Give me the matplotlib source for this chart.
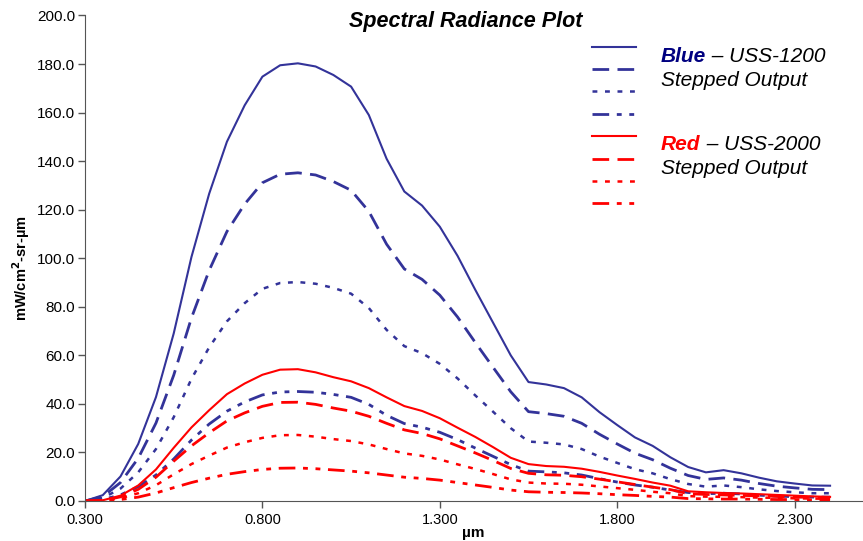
import numpy as np
import matplotlib.pyplot as plt
from matplotlib.lines import Line2D

plt.rcParams['font.family'] = ['Liberation Sans', 'DejaVu Sans']
plt.rcParams['lines.scale_dashes'] = False

# wavelength grid (um)
wl = [0.30, 0.35, 0.40, 0.45, 0.50, 0.55, 0.60, 0.65, 0.70, 0.75, 0.80,
      0.85, 0.90, 0.95, 1.00, 1.05, 1.10, 1.15, 1.20, 1.25, 1.30, 1.35,
      1.40, 1.45, 1.50, 1.55, 1.60, 1.65, 1.70, 1.75, 1.80, 1.85, 1.90,
      1.95, 2.00, 2.05, 2.10, 2.15, 2.20, 2.25, 2.30, 2.35, 2.40]

# USS-1200 (blue), full output and stepped outputs
blue_100 = [0, 2.4, 10.1, 23.5, 42.8, 69.0, 100.5, 126.6, 148.0, 163.0, 174.8,
            179.5, 180.3, 179.0, 175.5, 170.7, 159.0, 141.0, 127.5, 121.7, 113.0, 101.0,
            87.0, 73.5, 60.0, 49.0, 48.0, 46.5, 42.7, 36.6, 31.3, 26.2, 22.7,
            18.0, 14.0, 11.8, 12.7, 11.4, 9.6, 8.1, 7.2, 6.4, 6.3]
blue_75 = [0, 1.8, 7.6, 17.6, 32.1, 51.8, 75.4, 95.0, 111.0, 122.3, 131.1,
           134.6, 135.2, 134.3, 131.6, 128.0, 119.3, 105.8, 95.6, 91.3, 84.8, 75.8,
           65.3, 55.1, 45.0, 36.8, 36.0, 34.9, 32.0, 27.5, 23.5, 19.7, 17.0,
           13.5, 10.5, 8.9, 9.5, 8.6, 7.2, 6.1, 5.4, 4.8, 4.7]
blue_50 = [0, 1.2, 5.1, 11.8, 21.4, 34.5, 50.3, 63.3, 74.0, 81.5, 87.4,
           89.8, 90.2, 89.5, 87.8, 85.4, 79.5, 70.5, 63.8, 60.9, 56.5, 50.5,
           43.5, 36.8, 30.0, 24.5, 24.0, 23.3, 21.4, 18.3, 15.7, 13.1, 11.4,
           9.0, 7.0, 5.9, 6.4, 5.7, 4.8, 4.1, 3.6, 3.2, 3.2]
blue_25 = [0, 0.6, 2.5, 5.9, 10.7, 17.3, 25.1, 31.7, 37.0, 40.8, 43.7,
           44.9, 45.1, 44.8, 43.9, 42.7, 39.8, 35.3, 31.9, 30.4, 28.3, 25.3,
           21.8, 18.4, 15.0, 12.3, 12.0, 11.6, 10.7, 9.2, 7.8, 6.6, 5.7,
           4.5, 3.5, 3.0, 3.2, 2.9, 2.4, 2.0, 1.8, 1.6, 1.6]

# USS-2000 (red), full output and stepped outputs
red_100 = [0, 0.3, 2.2, 6.4, 13.0, 21.9, 30.3, 37.4, 44.0, 48.4, 52.0,
           54.1, 54.3, 53.0, 51.0, 49.3, 46.5, 42.7, 39.1, 37.1, 34.1, 30.2,
           26.4, 22.2, 17.8, 15.2, 14.4, 14.1, 13.3, 12.0, 10.5, 9.1, 7.6,
           6.3, 4.0, 3.6, 3.3, 3.1, 2.8, 2.5, 2.2, 1.9, 1.7]
red_75 = [0, 0.2, 1.7, 4.8, 9.8, 16.4, 22.7, 28.1, 33.0, 36.3, 39.0,
          40.6, 40.7, 39.8, 38.3, 37.0, 34.9, 32.0, 29.3, 27.8, 25.6, 22.7,
          19.8, 16.7, 13.4, 11.4, 10.8, 10.6, 10.0, 9.0, 7.9, 6.8, 5.7,
          4.7, 3.0, 2.7, 2.5, 2.3, 2.1, 1.9, 1.7, 1.4, 1.3]
red_50 = [0, 0.2, 1.1, 3.2, 6.5, 11.0, 15.2, 18.7, 22.0, 24.2, 26.0,
          27.1, 27.2, 26.5, 25.5, 24.7, 23.3, 21.4, 19.6, 18.6, 17.1, 15.1,
          13.2, 11.1, 8.9, 7.6, 7.2, 7.1, 6.7, 6.0, 5.3, 4.6, 3.8,
          3.2, 2.0, 1.8, 1.7, 1.6, 1.4, 1.3, 1.1, 1.0, 0.9]
red_25 = [0, 0.1, 0.6, 1.6, 3.3, 5.5, 7.6, 9.4, 11.0, 12.1, 13.0,
          13.5, 13.6, 13.3, 12.8, 12.3, 11.6, 10.7, 9.8, 9.3, 8.6, 7.6,
          6.6, 5.6, 4.5, 3.8, 3.6, 3.5, 3.3, 3.0, 2.6, 2.3, 1.9,
          1.6, 1.0, 0.9, 0.8, 0.8, 0.7, 0.6, 0.6, 0.5, 0.4]

xticks = [0.3, 0.8, 1.3, 1.8, 2.3]
yticks = [0, 20, 40, 60, 80, 100, 120, 140, 160, 180, 200]

BLUE = '#333399'
RED = '#ff0000'
styles = ['-', (0, (12, 6)), (0, (3.5, 5.5)), (0, (12, 5.5, 3.5, 5.5, 3.5, 5.5))]
widths = [1.5, 2.0, 1.8, 2.0]

W, H = 863, 541
fig = plt.figure(figsize=(W / 100, H / 100), dpi=100)
ax = fig.add_axes([85 / W, 1 - 501 / H, (862 - 85) / W, (501 - 15.5) / H])

handles = []
for ys, ls, lw in zip([blue_100, blue_75, blue_50, blue_25], styles, widths):
    h, = ax.plot(wl, ys, color=BLUE, ls=ls, lw=lw)
    handles.append(h)
for ys, ls, lw in zip([red_100, red_75, red_50, red_25], styles, widths):
    h, = ax.plot(wl, ys, color=RED, ls=ls, lw=lw)
    handles.append(h)

ax.set_xlim(0.3, 2.49)
ax.set_ylim(0, 200)
ax.set_xticks(xticks)
ax.set_yticks(yticks)
ax.xaxis.set_major_formatter(plt.FormatStrFormatter('%.3f'))
ax.yaxis.set_major_formatter(plt.FormatStrFormatter('%.1f'))
ax.tick_params(length=5, width=1, color='#555555')
ax.tick_params(axis='x', labelsize=10.5, pad=4)
ax.tick_params(axis='y', labelsize=11, pad=2)
for s in ['top', 'right']:
    ax.spines[s].set_visible(False)
for s in ['left', 'bottom']:
    ax.spines[s].set_color('#555555')

ax.set_ylabel(r'mW/cm$^{\mathbf{2}}$-sr-µm', fontsize=10.5, fontweight='bold')
ax.yaxis.set_label_coords(-0.068, 0.48)
ax.set_xlabel('µm', fontsize=11, fontweight='bold')
ax.xaxis.label.set_va('bottom')
ax.xaxis.set_label_coords(0.5, -(540 - 501) / 485.5)

fig.text(466 / W, 1 - 21 / H, 'Spectral Radiance Plot', fontsize=15.5,
         fontweight='bold', style='italic', ha='center', va='center')

leg = ax.legend(handles, [''] * 8, loc='upper left',
                bbox_to_anchor=(592 / W, 1 - 41 / H), bbox_transform=fig.transFigure,
                frameon=False, fontsize=11, handlelength=2.85, handletextpad=0,
                borderpad=0, borderaxespad=0, labelspacing=0.55)

t1 = fig.text(661 / W, 1 - 56 / H, 'Blue', fontsize=15, fontweight='bold',
              style='italic', color='#000080', va='center')
ax.annotate(' – USS-1200', xy=(1, 0.5), xycoords=t1, va='center', fontsize=15,
            style='italic')
fig.text(661 / W, 1 - 81 / H, 'Stepped Output', fontsize=15, style='italic', va='center')
t2 = fig.text(661 / W, 1 - 144 / H, 'Red', fontsize=15, fontweight='bold',
              style='italic', color=RED, va='center')
ax.annotate(' – USS-2000', xy=(1, 0.5), xycoords=t2, va='center', fontsize=15,
            style='italic')
fig.text(661 / W, 1 - 169 / H, 'Stepped Output', fontsize=15, style='italic', va='center')

fig.savefig('out.png', dpi=100)
